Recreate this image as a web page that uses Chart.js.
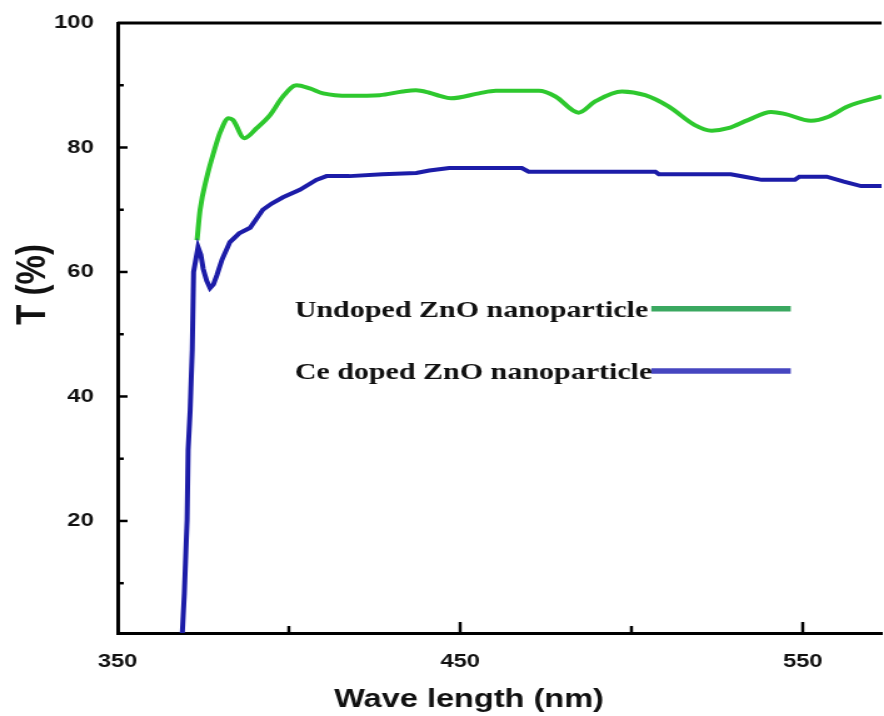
<!DOCTYPE html>
<html>
<head>
<meta charset="utf-8">
<title>Transmittance of ZnO nanoparticles</title>
<script src="https://cdn.jsdelivr.net/npm/chart.js@4.4.1/dist/chart.umd.min.js"></script>
<style>
  html, body { margin: 0; padding: 0; background: #fff; overflow: hidden; }
  /* the source figure is stretched sideways, so draw it narrow and widen it */
  #wrap { width: 707px; height: 716px; transform: scaleX(1.2504); transform-origin: 0 0; }
</style>
</head>
<body>
<div id="wrap"><canvas id="chart"></canvas></div>
<script>
// wavelength (nm) and transmittance (%)
var undopedWave = [373.2, 374.1, 376.1, 378, 380, 382.4, 383.7, 387, 390.6, 394.5,
                   398.3, 402.2, 406.1, 410, 417.7, 426.5, 433.2, 437.1, 441, 444,
                   447.3, 455.5, 460.4, 473, 477.8, 484.6, 489.4, 497.2, 504, 510.8,
                   518.5, 523.4, 528.2, 534, 540.8, 544.7, 552.4, 557.3, 563.1, 573];
var undopedT = [65.1, 70, 75.3, 79.1, 82.5, 84.7, 84.4, 81.5, 83.1, 85.2,
                88.2, 90.0, 89.5, 88.7, 88.3, 88.4, 89.0, 89.2, 88.8, 88.3,
                87.9, 88.7, 89.1, 89.1, 88.2, 85.6, 87.4, 89.0, 88.4, 86.6,
                83.6, 82.7, 83.1, 84.4, 85.7, 85.4, 84.3, 84.9, 86.6, 88.2];

var ceWave = [366, 368.9, 369.5, 370.3, 370.6, 371.2, 371.8, 372.2, 373.5, 374.3,
              375, 376, 377, 378, 379, 380.5, 382.8, 385.5, 388.7, 390.5,
              392.4, 395, 398.3, 403.2, 408, 411, 417.7, 427.3, 437.2, 441,
              446.8, 468, 470, 507, 508, 529, 533, 538, 547.7, 549,
              557, 562, 567, 573];
var ceT = [0, 2, 8.4, 20.2, 31.4, 37.8, 47.5, 60, 64.0, 62.8,
           60.5, 58.6, 57.4, 58.0, 59.5, 62.0, 64.8, 66.2, 67.1, 68.5,
           70, 71, 72, 73.2, 74.8, 75.4, 75.4, 75.7, 75.9, 76.3,
           76.7, 76.7, 76.1, 76.1, 75.7, 75.7, 75.3, 74.8, 74.8, 75.3,
           75.3, 74.5, 73.8, 73.8];

var seriesLabels = ['Undoped ZnO nanoparticle', 'Ce doped ZnO nanoparticle'];
var lineColors = ['#2ec82e', '#1c1ca8'];
var keyColors = ['#3aa860', '#4646c0'];

var xMajor = [350, 450, 550];
var xMinor = [400, 500];
var yMajor = [20, 40, 60, 80, 100];
var yMinor = [10, 30, 50, 70, 90];

function toPoints(xs, ys) {
    return xs.map(function (x, i) { return { x: x, y: ys[i] }; });
}

var tickFont = { family: 'Liberation Sans', size: 19, weight: 'bold' };

// frame top, inward tick marks, in-plot key and the axis titles
var figureBits = {
    id: 'figureBits',
    afterDraw: function (chart) {
        var ctx = chart.ctx, a = chart.chartArea;
        var xs = chart.scales.x, ys = chart.scales.y;
        ctx.save();
        ctx.strokeStyle = '#000';
        ctx.lineWidth = 3;
        ctx.beginPath();
        ctx.moveTo(a.left, a.top);
        ctx.lineTo(a.right, a.top);
        ctx.stroke();

        ctx.lineWidth = 2.5;
        function yTick(v, len) {
            var p = ys.getPixelForValue(v);
            ctx.beginPath(); ctx.moveTo(a.left, p); ctx.lineTo(a.left + len, p); ctx.stroke();
        }
        function xTick(v, len) {
            var p = xs.getPixelForValue(v);
            ctx.beginPath(); ctx.moveTo(p, a.bottom); ctx.lineTo(p, a.bottom - len); ctx.stroke();
        }
        yMajor.forEach(function (v) { if (v < 100) yTick(v, 8); });
        yMinor.forEach(function (v) { yTick(v, 5); });
        xMajor.forEach(function (v) { if (v > 350) xTick(v, 11); });
        xMinor.forEach(function (v) { xTick(v, 7); });

        // key
        var keyY = [52.8, 42.8];
        ctx.font = 'bold 24px "Liberation Serif"';
        ctx.textAlign = 'left';
        ctx.textBaseline = 'alphabetic';
        seriesLabels.forEach(function (lab, i) {
            var y = ys.getPixelForValue(keyY[i]);
            ctx.fillStyle = '#111';
            ctx.fillText(lab, xs.getPixelForValue(401.7), y);
            ctx.strokeStyle = keyColors[i];
            ctx.lineWidth = 5.5;
            ctx.beginPath();
            ctx.moveTo(xs.getPixelForValue(505.8), y - 8);
            ctx.lineTo(xs.getPixelForValue(546.5), y - 8);
            ctx.stroke();
        });

        // axis titles
        ctx.fillStyle = '#111';
        ctx.font = 'bold 26px "Liberation Sans"';
        ctx.textAlign = 'center';
        ctx.fillText('Wave length (nm)', xs.getPixelForValue(452.6), xs.bottom - 9);

        ctx.translate(27, ys.getPixelForValue(58));
        ctx.rotate(-Math.PI / 2);
        ctx.font = 'bold 33px "Liberation Sans"';
        ctx.textBaseline = 'middle';
        ctx.fillText('T (%)', 0, 0);
        ctx.restore();
    }
};

new Chart(document.getElementById('chart'), {
    type: 'line',
    data: {
        datasets: [{
            label: seriesLabels[1],
            data: toPoints(ceWave, ceT),
            borderColor: lineColors[1],
            borderWidth: 4,
            pointRadius: 0,
            tension: 0
        }, {
            label: seriesLabels[0],
            data: toPoints(undopedWave, undopedT),
            borderColor: lineColors[0],
            borderWidth: 4,
            pointRadius: 0,
            cubicInterpolationMode: 'monotone'
        }]
    },
    options: {
        responsive: true,
        maintainAspectRatio: false,
        animation: false,
        layout: { padding: { top: 23, left: 0, right: 0, bottom: 0 } },
        plugins: {
            legend: { display: false },
            tooltip: { enabled: false }
        },
        scales: {
            x: {
                type: 'linear',
                min: 350,
                max: 573,
                grid: { display: false },
                border: { color: '#000', width: 3 },
                afterBuildTicks: function (s) { s.ticks = xMajor.map(function (v) { return { value: v }; }); },
                afterFit: function (s) { s.height = 83; },
                ticks: { color: '#111', padding: 9, font: tickFont, maxRotation: 0, autoSkip: false }
            },
            y: {
                min: 2,
                max: 100,
                grid: { display: false },
                border: { color: '#000', width: 3 },
                afterBuildTicks: function (s) { s.ticks = yMajor.map(function (v) { return { value: v }; }); },
                afterFit: function (s) { s.width = 94; },
                ticks: { color: '#111', padding: 11, font: tickFont, autoSkip: false }
            }
        }
    },
    plugins: [figureBits]
});
</script>
</body>
</html>
